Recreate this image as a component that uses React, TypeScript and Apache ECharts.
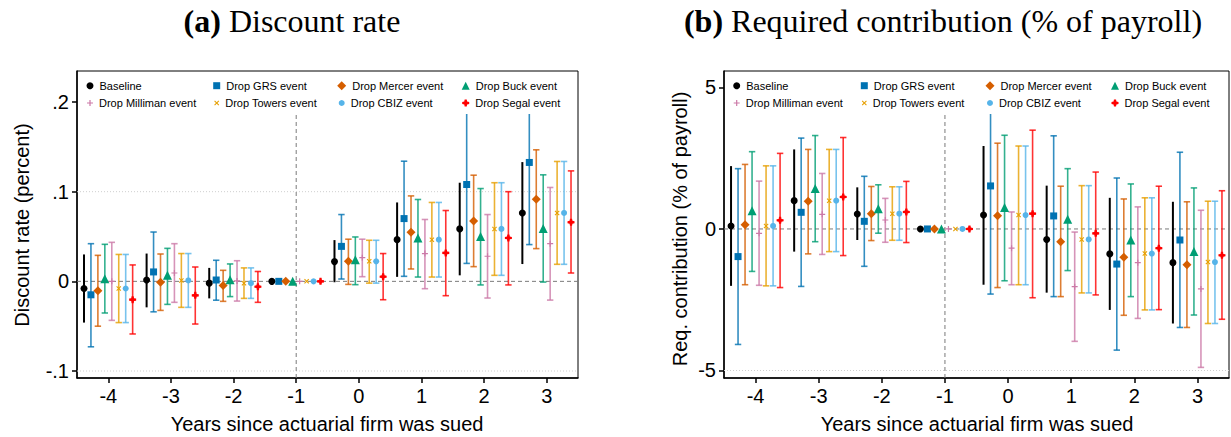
import React, { useEffect, useRef } from "react";
import * as echarts from "echarts";

const GROUPS = [-4, -3, -2, -1, 0, 1, 2, 3];
const SERIES_NAMES = [
  "Baseline",
  "Drop GRS event",
  "Drop Mercer event",
  "Drop Buck event",
  "Drop Milliman event",
  "Drop Towers event",
  "Drop CBIZ event",
  "Drop Segal event",
];
const COLORS = ["#000000", "#0072B2", "#D55E00", "#009E73", "#CC79A7", "#E69F00", "#56B4E9", "#FF0000"];

// Panel (a) Discount rate: point estimates, lower and upper CI
const A_PT = [
  [-0.008, 0.0015, -0.002, 0, 0.022, 0.0465, 0.0585, 0.0763],
  [-0.015, 0.0105, 0.0015, 0, 0.039, 0.070, 0.108, 0.1326],
  [-0.0104, -0.001, -0.0045, 0, 0.0223, 0.0547, 0.0674, 0.0916],
  [0.003, 0.0067, 0.0019, 0, 0.024, 0.0484, 0.050, 0.0589],
  [0.0, 0.0093, 0.0005, 0, 0.0264, 0.031, 0.028, 0.042],
  [-0.008, 0.001, -0.002, 0, 0.0223, 0.0465, 0.0585, 0.0763],
  [-0.008, 0.001, -0.002, 0, 0.0223, 0.0465, 0.0585, 0.0763],
  [-0.0204, -0.0156, -0.006, 0, 0.0052, 0.0317, 0.0484, 0.0659],
];
const A_LO = [
  [-0.046, -0.029, -0.019, 0, -0.001, 0.005, 0.0067, 0.0193],
  [-0.073, -0.034, -0.021, 0, 0.0026, 0.0056, 0.020, 0.041],
  [-0.050, -0.0324, -0.0223, 0, -0.0034, 0.0138, 0.0164, 0.0365],
  [-0.0353, -0.0257, -0.017, 0, -0.0037, 0.0048, -0.004, -0.0008],
  [-0.0435, -0.0234, -0.022, 0, 0.0052, -0.0082, -0.0186, -0.0209],
  [-0.046, -0.029, -0.019, 0, -0.002, 0.0048, 0.0067, 0.019],
  [-0.046, -0.029, -0.019, 0, -0.002, 0.0048, 0.0067, 0.019],
  [-0.0587, -0.0476, -0.0234, 0, -0.0205, -0.016, -0.004, 0.0093],
];
const A_HI = [
  [0.030, 0.031, 0.015, 0, 0.046, 0.088, 0.110, 0.133],
  [0.042, 0.055, 0.0235, 0, 0.0745, 0.134, 0.196, 0.224],
  [0.029, 0.0305, 0.0123, 0, 0.047, 0.0953, 0.1184, 0.1467],
  [0.0413, 0.0368, 0.0194, 0, 0.0495, 0.0913, 0.1035, 0.1188],
  [0.0435, 0.042, 0.023, 0, 0.047, 0.069, 0.0745, 0.1047],
  [0.030, 0.031, 0.015, 0, 0.0458, 0.088, 0.110, 0.1337],
  [0.030, 0.031, 0.015, 0, 0.0458, 0.088, 0.110, 0.1337],
  [0.0183, 0.016, 0.011, 0, 0.031, 0.079, 0.100, 0.1232],
];

// Panel (b) Required contribution (% of payroll)
const B_PT = [
  [0.106, 1.0, 0.53, 0, 0.49, -0.37, -0.88, -1.19],
  [-0.976, 0.588, 0.27, 0, 1.52, 0.46, -1.24, -0.39],
  [0.153, 0.976, 0.54, 0, 0.47, -0.45, -1.0, -1.26],
  [0.646, 1.43, 0.716, 0, 0.76, 0.34, -0.39, -0.8],
  [-0.153, 0.518, 0.317, 0, -0.68, -2.04, -1.19, -2.12],
  [0.106, 1.0, 0.54, 0, 0.49, -0.37, -0.87, -1.17],
  [0.106, 1.0, 0.54, 0, 0.49, -0.37, -0.87, -1.17],
  [0.306, 1.13, 0.6, 0, 0.54, -0.155, -0.68, -0.93],
];
const B_LO = [
  [-2.01, -0.8, -0.39, 0, -1.97, -2.25, -2.86, -3.34],
  [-4.08, -2.03, -1.32, 0, -2.3, -2.39, -4.28, -3.48],
  [-1.97, -0.88, -0.41, 0, -2.07, -2.39, -3.05, -3.48],
  [-1.5, -0.45, -0.15, 0, -1.83, -1.47, -2.39, -3.04],
  [-1.99, -0.9, -0.47, 0, -1.97, -3.97, -3.16, -4.89],
  [-2.01, -0.8, -0.4, 0, -1.97, -2.26, -2.86, -3.34],
  [-2.01, -0.8, -0.4, 0, -1.97, -2.26, -2.86, -3.34],
  [-2.07, -0.94, -0.48, 0, -2.43, -2.33, -2.85, -3.19],
];
const B_HI = [
  [2.22, 2.81, 1.47, 0, 2.93, 1.53, 1.1, 0.96],
  [2.13, 3.21, 1.86, 0, 5.34, 3.29, 1.8, 2.71],
  [2.28, 2.81, 1.5, 0, 3.03, 1.51, 1.06, 0.96],
  [2.73, 3.30, 1.56, 0, 3.31, 2.13, 1.59, 1.45],
  [1.69, 1.96, 1.08, 0, 0.6, -0.11, 0.78, 0.66],
  [2.23, 2.81, 1.49, 0, 2.93, 1.53, 1.1, 0.98],
  [2.23, 2.81, 1.49, 0, 2.93, 1.53, 1.1, 0.98],
  [2.67, 3.23, 1.68, 0, 3.49, 2.01, 1.51, 1.35],
];

const A_TICKS = [-0.1, 0, 0.1, 0.2];
const B_TICKS = [-5, 0, 5];
const A_GRID = [-0.1, 0.1, 0.2];
const B_GRID = [-5, 5];
const EVENT_X = -1;

const PLUS = "path://M4,0H6V4H10V6H6V10H4V6H0V4H4Z";
const CROSS = "path://M1.5,0L5,3.5L8.5,0L10,1.5L6.5,5L10,8.5L8.5,10L5,6.5L1.5,10L0,8.5L3.5,5L0,1.5Z";
const STARPLUS = "path://M3.5,0H6.5L7,3L10,3.5V6.5L7,7L6.5,10H3.5L3,7L0,6.5V3.5L3,3Z";
const SYMBOLS = ["circle", "rect", "diamond", "triangle", PLUS, CROSS, "circle", STARPLUS];
const SYM_SIZE = [7, 7, 9, 9, 6, 5, 6, 7];
const LEG_SIZE = [7, 7, 9, 8, 6, 5, 6, 7];
const OFFSET = 0.111;
const FONT = "Liberation Sans";
const COVER_H = 43; // legend area height (px) at the top of each plot region

function hexA(hex: string, a: number) {
  const r = parseInt(hex.slice(1, 3), 16);
  const g = parseInt(hex.slice(3, 5), 16);
  const b = parseInt(hex.slice(5, 7), 16);
  return `rgba(${r},${g},${b},${a})`;
}

function panelSeries(idx: number, PT: number[][], LO: number[][], HI: number[][]) {
  const out: any[] = [];
  SERIES_NAMES.forEach((name, i) => {
    const xs = GROUPS.map((g) => g + (i - 3.5) * OFFSET);
    const isBase = i === 0;
    const stroke = isBase ? "#000" : hexA(COLORS[i], 0.8);
    out.push({
      type: "custom",
      name: name + " CI",
      xAxisIndex: idx,
      yAxisIndex: idx,
      z: 2,
      silent: true,
      data: xs.map((x, k) => [x, LO[i][k], HI[i][k]]),
      renderItem: (params: any, api: any) => {
        const x = api.value(0);
        const lo = api.value(1);
        const hi = api.value(2);
        if (lo === hi) return { type: "group", children: [] };
        const top = params.coordSys.y + COVER_H;
        const a = api.coord([x, lo]);
        const b = api.coord([x, hi]);
        const hidden = b[1] < top;
        const by = hidden ? top : b[1];
        const lw = isBase ? 2 : 1.6;
        const children: any[] = [
          { type: "line", shape: { x1: a[0], y1: a[1], x2: b[0], y2: by }, style: { stroke, lineWidth: lw } },
        ];
        if (!isBase) {
          children.push({ type: "line", shape: { x1: a[0] - 3.2, y1: a[1], x2: a[0] + 3.2, y2: a[1] }, style: { stroke, lineWidth: 1.6 } });
          if (!hidden)
            children.push({ type: "line", shape: { x1: b[0] - 3.2, y1: b[1], x2: b[0] + 3.2, y2: b[1] }, style: { stroke, lineWidth: 1.6 } });
        }
        return { type: "group", children };
      },
    });
    out.push({
      type: "scatter",
      name,
      xAxisIndex: idx,
      yAxisIndex: idx,
      z: 3,
      symbol: SYMBOLS[i],
      symbolSize: SYM_SIZE[i],
      itemStyle: { color: COLORS[i], opacity: 1 },
      silent: true,
      data: xs.map((x, k) => [x, PT[i][k]]),
    });
  });
  return out;
}

// Reference lines: dotted gridlines, dashed zero line, dashed event line (x = -1)
function refLines(idx: number, grid: number[]) {
  const data: any[] = grid.map((v) => [0, v, 0]);
  data.push([0, 0, 1]);
  data.push([EVENT_X, 0, 2]);
  return {
    type: "custom",
    name: "ref" + idx,
    xAxisIndex: idx,
    yAxisIndex: idx,
    z: 1,
    silent: true,
    clip: false,
    data,
    renderItem: (params: any, api: any) => {
      const cs = params.coordSys;
      const top = cs.y + COVER_H;
      const kind = api.value(2);
      if (kind === 2) {
        const p = api.coord([api.value(0), 0]);
        return {
          type: "line",
          shape: { x1: p[0], y1: cs.y + cs.height, x2: p[0], y2: top },
          style: { stroke: "#7a7a7a", lineWidth: 1, lineDash: [4, 3] },
        };
      }
      const p = api.coord([0, api.value(1)]);
      if (p[1] < top) return { type: "group", children: [] };
      const dashed = kind === 1;
      return {
        type: "line",
        shape: { x1: cs.x, y1: p[1], x2: cs.x + cs.width, y2: p[1] },
        style: dashed
          ? { stroke: "#7a7a7a", lineWidth: 1, lineDash: [4, 3] }
          : { stroke: "#cfcfcf", lineWidth: 1, lineDash: [1, 2] },
      };
    },
  };
}

function legends(cxs: number[]) {
  const rows = [86.7, 104];
  return SERIES_NAMES.map((name, i) => {
    const cx = cxs[i % 4];
    const cy = rows[Math.floor(i / 4)];
    const s = LEG_SIZE[i];
    return {
      data: [{ name, icon: SYMBOLS[i] }],
      left: cx - s / 2,
      top: cy - 6.5,
      itemWidth: s,
      itemHeight: s,
      padding: 0,
      itemGap: 0,
      selectedMode: false,
      z: 10,
      textStyle: { fontSize: 11, fontFamily: FONT, color: "#000", padding: [0, 0, 0, 1] },
    };
  });
}

const xAxisBase = (gi: number) => ({
  type: "value",
  gridIndex: gi,
  min: -4.5,
  max: 3.5,
  axisLine: { show: true, onZero: false, lineStyle: { color: "#000", width: 1.5 } },
  axisTick: { show: true, customValues: GROUPS, length: 5, lineStyle: { color: "#000", width: 1.5 } },
  axisLabel: { customValues: GROUPS, fontSize: 20, fontFamily: FONT, color: "#000", margin: 8 },
  splitLine: { show: false },
});

export default function App() {
  const ref = useRef<HTMLDivElement>(null);
  useEffect(() => {
    if (!ref.current) return;
    const chart = echarts.init(ref.current, null, { renderer: "svg" });
    const option: any = {
      animation: false,
      backgroundColor: "#fff",
      grid: [
        { left: 77, top: 71, width: 501, height: 307, show: true, borderColor: "#000", borderWidth: 1, containLabel: false },
        { left: 724, top: 71, width: 505, height: 307, show: true, borderColor: "#000", borderWidth: 1, containLabel: false },
      ],
      xAxis: [xAxisBase(0), xAxisBase(1)],
      yAxis: [
        {
          type: "value",
          gridIndex: 0,
          min: -0.1078,
          max: 0.2346,
          axisLine: { show: true, onZero: false, lineStyle: { color: "#000", width: 1.5 } },
          axisTick: { show: true, customValues: A_TICKS, length: 5, lineStyle: { color: "#000", width: 1.5 } },
          axisLabel: {
            customValues: A_TICKS,
            fontSize: 20,
            fontFamily: FONT,
            color: "#000",
            margin: 8,
            formatter: (v: number) => {
              if (Math.abs(v) < 1e-9) return "0";
              const s = String(Math.round(Math.abs(v) * 10) / 10).replace(/^0/, "");
              return (v < 0 ? "-" : "") + s;
            },
          },
          splitLine: { show: false },
        },
        {
          type: "value",
          gridIndex: 1,
          min: -5.265,
          max: 5.58,
          axisLine: { show: true, onZero: false, lineStyle: { color: "#000", width: 1.5 } },
          axisTick: { show: true, customValues: B_TICKS, length: 5, lineStyle: { color: "#000", width: 1.5 } },
          axisLabel: { customValues: B_TICKS, fontSize: 20, fontFamily: FONT, color: "#000", margin: 8 },
          splitLine: { show: false },
        },
      ],
      legend: [...legends([90, 216.7, 341.7, 465.7]), ...legends([736.7, 864.3, 990, 1115])],
      graphic: [
        {
          type: "text",
          x: 292,
          y: 21,
          style: {
            text: "{b|(a)} Discount rate",
            fontFamily: "Liberation Serif",
            fontSize: 32,
            fill: "#000",
            align: "center",
            verticalAlign: "middle",
            rich: { b: { fontWeight: "bold", fontFamily: "Liberation Serif", fontSize: 32 } },
          },
        },
        {
          type: "text",
          x: 943,
          y: 21,
          style: {
            text: "{b|(b)} Required contribution (% of payroll)",
            fontFamily: "Liberation Serif",
            fontSize: 32,
            fill: "#000",
            align: "center",
            verticalAlign: "middle",
            rich: { b: { fontWeight: "bold", fontFamily: "Liberation Serif", fontSize: 32 } },
          },
        },
        {
          type: "text",
          x: 327,
          y: 424,
          style: { text: "Years since actuarial firm was sued", fontFamily: FONT, fontSize: 20, fill: "#000", align: "center", verticalAlign: "middle" },
        },
        {
          type: "text",
          x: 977,
          y: 424,
          style: { text: "Years since actuarial firm was sued", fontFamily: FONT, fontSize: 20, fill: "#000", align: "center", verticalAlign: "middle" },
        },
        {
          type: "text",
          x: 22,
          y: 225,
          rotation: Math.PI / 2,
          style: { text: "Discount rate (percent)", fontFamily: FONT, fontSize: 20, fill: "#000", align: "center", verticalAlign: "middle" },
        },
        {
          type: "text",
          x: 680,
          y: 229,
          rotation: Math.PI / 2,
          style: { text: "Req. contribution (% of payroll)", fontFamily: FONT, fontSize: 20, fill: "#000", align: "center", verticalAlign: "middle" },
        },
      ],
      series: [
        refLines(0, A_GRID),
        refLines(1, B_GRID),
        ...panelSeries(0, A_PT, A_LO, A_HI),
        ...panelSeries(1, B_PT, B_LO, B_HI),
      ],
    };
    chart.setOption(option);
    return () => chart.dispose();
  }, []);
  return <div ref={ref} style={{ position: "absolute", left: 0, top: 0, width: 1231, height: 437 }} />;
}
